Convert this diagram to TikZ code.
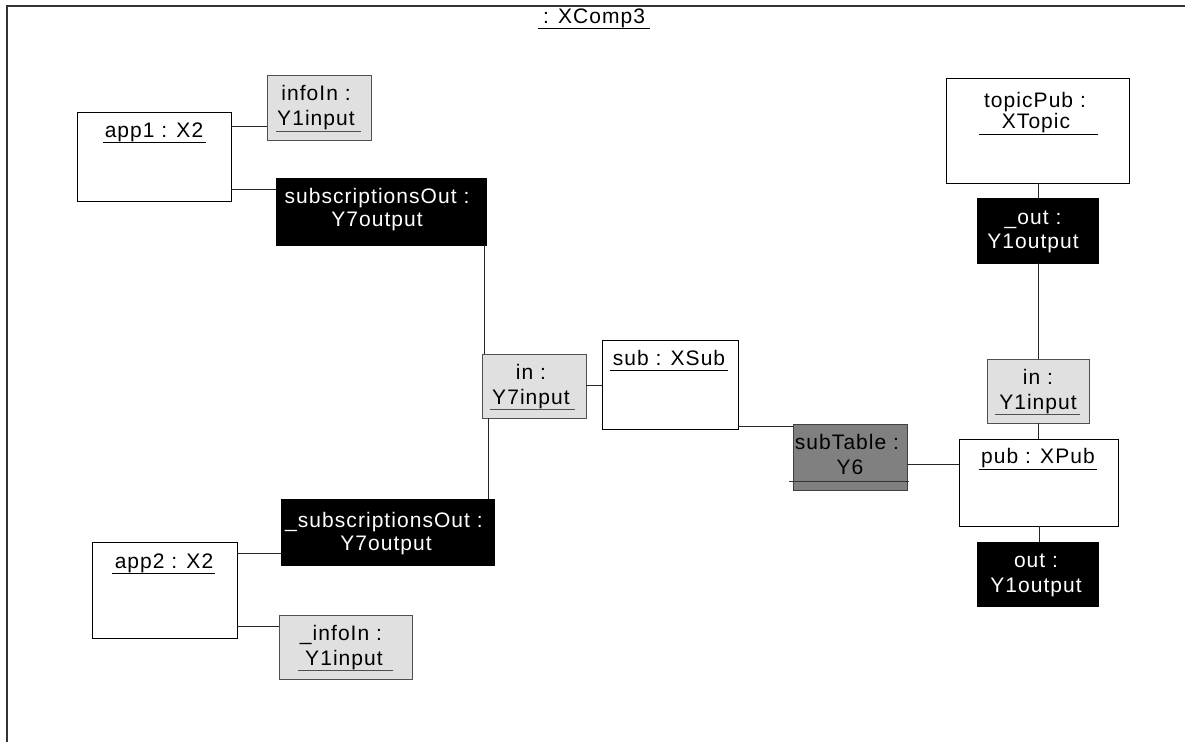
\documentclass[tikz,border=0pt]{standalone}
\usepackage{fontspec}
\setmainfont[LetterSpace=5]{Liberation Sans}
\definecolor{portlight}{HTML}{E0E0E0}
\definecolor{portgray}{HTML}{808080}
\definecolor{edgegray}{HTML}{505050}
\newcommand\bx[6]{\node[#2,minimum width={#5-#3},minimum height={#6-#4}] (#1) at ({(#3+#5)/2},{(#4+#6)/2}) {};}
\begin{document}
\begin{tikzpicture}[x=1pt,y=-1pt,
  base/.style={inner sep=0pt,outer sep=0pt,rectangle,line width=1pt},
  objbox/.style={base,draw=black,fill=white},
  inport/.style={base,draw=edgegray,fill=portlight},
  outport/.style={base,draw=black,fill=black},
  tableport/.style={base,draw=black!75,fill=portgray},
  txt/.style={inner sep=0pt,outer sep=0pt,anchor=base,font=\fontsize{21}{25}\selectfont},
  wtxt/.style={txt,text=white},
  ul/.style={line width=1pt,draw=black},
  ulg/.style={line width=1pt,draw=edgegray},
  conn/.style={line width=1pt,draw=black!85},
  frame/.style={line width=1.5pt,draw=black!80}]
\useasboundingbox (0,0) rectangle (1185,742);
% frame
\draw[frame] (7,742) -- (7,6) -- (1185,6);
\node[txt] (title) at (594,23) {: XComp3};
\draw[ul] (538,28) -- (650,28);
% boxes
\bx{app1}{objbox}{77}{112}{231}{201}
\bx{infoIn}{inport}{267}{75}{371}{140}
\bx{subOut}{outport}{276}{178}{486}{245}
\bx{inY7}{inport}{482}{354}{586}{418}
\bx{sub}{objbox}{602}{340}{738}{429}
\bx{subTable}{tableport}{793}{424}{907}{490}
\bx{topicPub}{objbox}{946}{78}{1129}{183}
\bx{outA}{outport}{977}{198}{1098}{263}
\bx{inY1}{inport}{987}{359}{1089}{423}
\bx{pub}{objbox}{959}{439}{1118}{526}
\bx{outB}{outport}{977}{542}{1098}{606}
\bx{subOutB}{outport}{281}{499}{494}{565}
\bx{app2}{objbox}{92}{542}{237}{638}
\bx{infoInB}{inport}{279}{615}{412}{679}
% connectors
\draw[conn] (app1.east |- 0,126) -- (infoIn.west |- 0,126);
\draw[conn] (app1.east |- 0,189) -- (subOut.west |- 0,189);
\draw[conn] (subOut.south -| 484,0) -- (inY7.north -| 484,0);
\draw[conn] (inY7.east |- 0,385) -- (sub.west |- 0,385);
\draw[conn] (inY7.south -| 488,0) -- (subOutB.north -| 488,0);
\draw[conn] (sub.east |- 0,426) -- (subTable.west |- 0,426);
\draw[conn] (subTable.east |- 0,464) -- (pub.west |- 0,464);
\draw[conn] (topicPub.south -| 1038,0) -- (outA.north -| 1038,0);
\draw[conn] (outA.south -| 1038,0) -- (inY1.north -| 1038,0);
\draw[conn] (inY1.south -| 1038,0) -- (pub.north -| 1038,0);
\draw[conn] (pub.south -| 1039,0) -- (outB.north -| 1039,0);
\draw[conn] (app2.east |- 0,553) -- (subOutB.west |- 0,553);
\draw[conn] (app2.east |- 0,626) -- (infoInB.west |- 0,626);
% texts
\node[txt] (app1-t) at (154,137) {app1 : X2};
\draw[ul] (103,142) -- (206,142);
\node[txt] (infoIn-t1) at (316,100) {infoIn :};
\node[txt] (infoIn-t2) at (316,125) {Y1input};
\draw[ulg] (276,131) -- (361,131);
\node[wtxt] (subOut-t1) at (377,203) {subscriptionsOut :};
\node[wtxt] (subOut-t2) at (377,226) {Y7output};
\node[txt] (inY7-t1) at (531,379) {in :};
\node[txt] (inY7-t2) at (531,404) {Y7input};
\draw[ulg] (490,409) -- (575,409);
\node[txt] (sub-t) at (669,365) {sub : XSub};
\draw[ul] (610,370) -- (728,370);
\node[txt] (subTable-t1) at (847,449) {subTable :};
\node[txt] (subTable-t2) at (850,474) {Y6};
\draw[line width=1pt,draw=black!80] (789,481) -- (909,481);
\node[txt] (topicPub-t1) at (1035,107) {topicPub :};
\node[txt] (topicPub-t2) at (1036,128) {XTopic};
\draw[ul] (979,134) -- (1098,134);
\node[wtxt] (outA-t1) at (1033,224) {\_out :};
\node[wtxt] (outA-t2) at (1033,248) {Y1output};
\node[txt] (inY1-t1) at (1038,384) {in :};
\node[txt] (inY1-t2) at (1038,409) {Y1input};
\draw[ulg] (995,414) -- (1080,414);
\node[txt] (pub-t) at (1038,463) {pub : XPub};
\draw[ul] (979,469) -- (1097,469);
\node[wtxt] (outB-t1) at (1036,567) {out :};
\node[wtxt] (outB-t2) at (1036,592) {Y1output};
\node[wtxt] (subOutB-t1) at (384,527) {\_subscriptionsOut :};
\node[wtxt] (subOutB-t2) at (386,550) {Y7output};
\node[txt] (app2-t) at (164,568) {app2 : X2};
\draw[ul] (112,573) -- (215,573);
\node[txt] (infoInB-t1) at (341,640) {\_infoIn :};
\node[txt] (infoInB-t2) at (344,665) {Y1input};
\draw[ulg] (298,670) -- (393,670);
\end{tikzpicture}
\end{document}
